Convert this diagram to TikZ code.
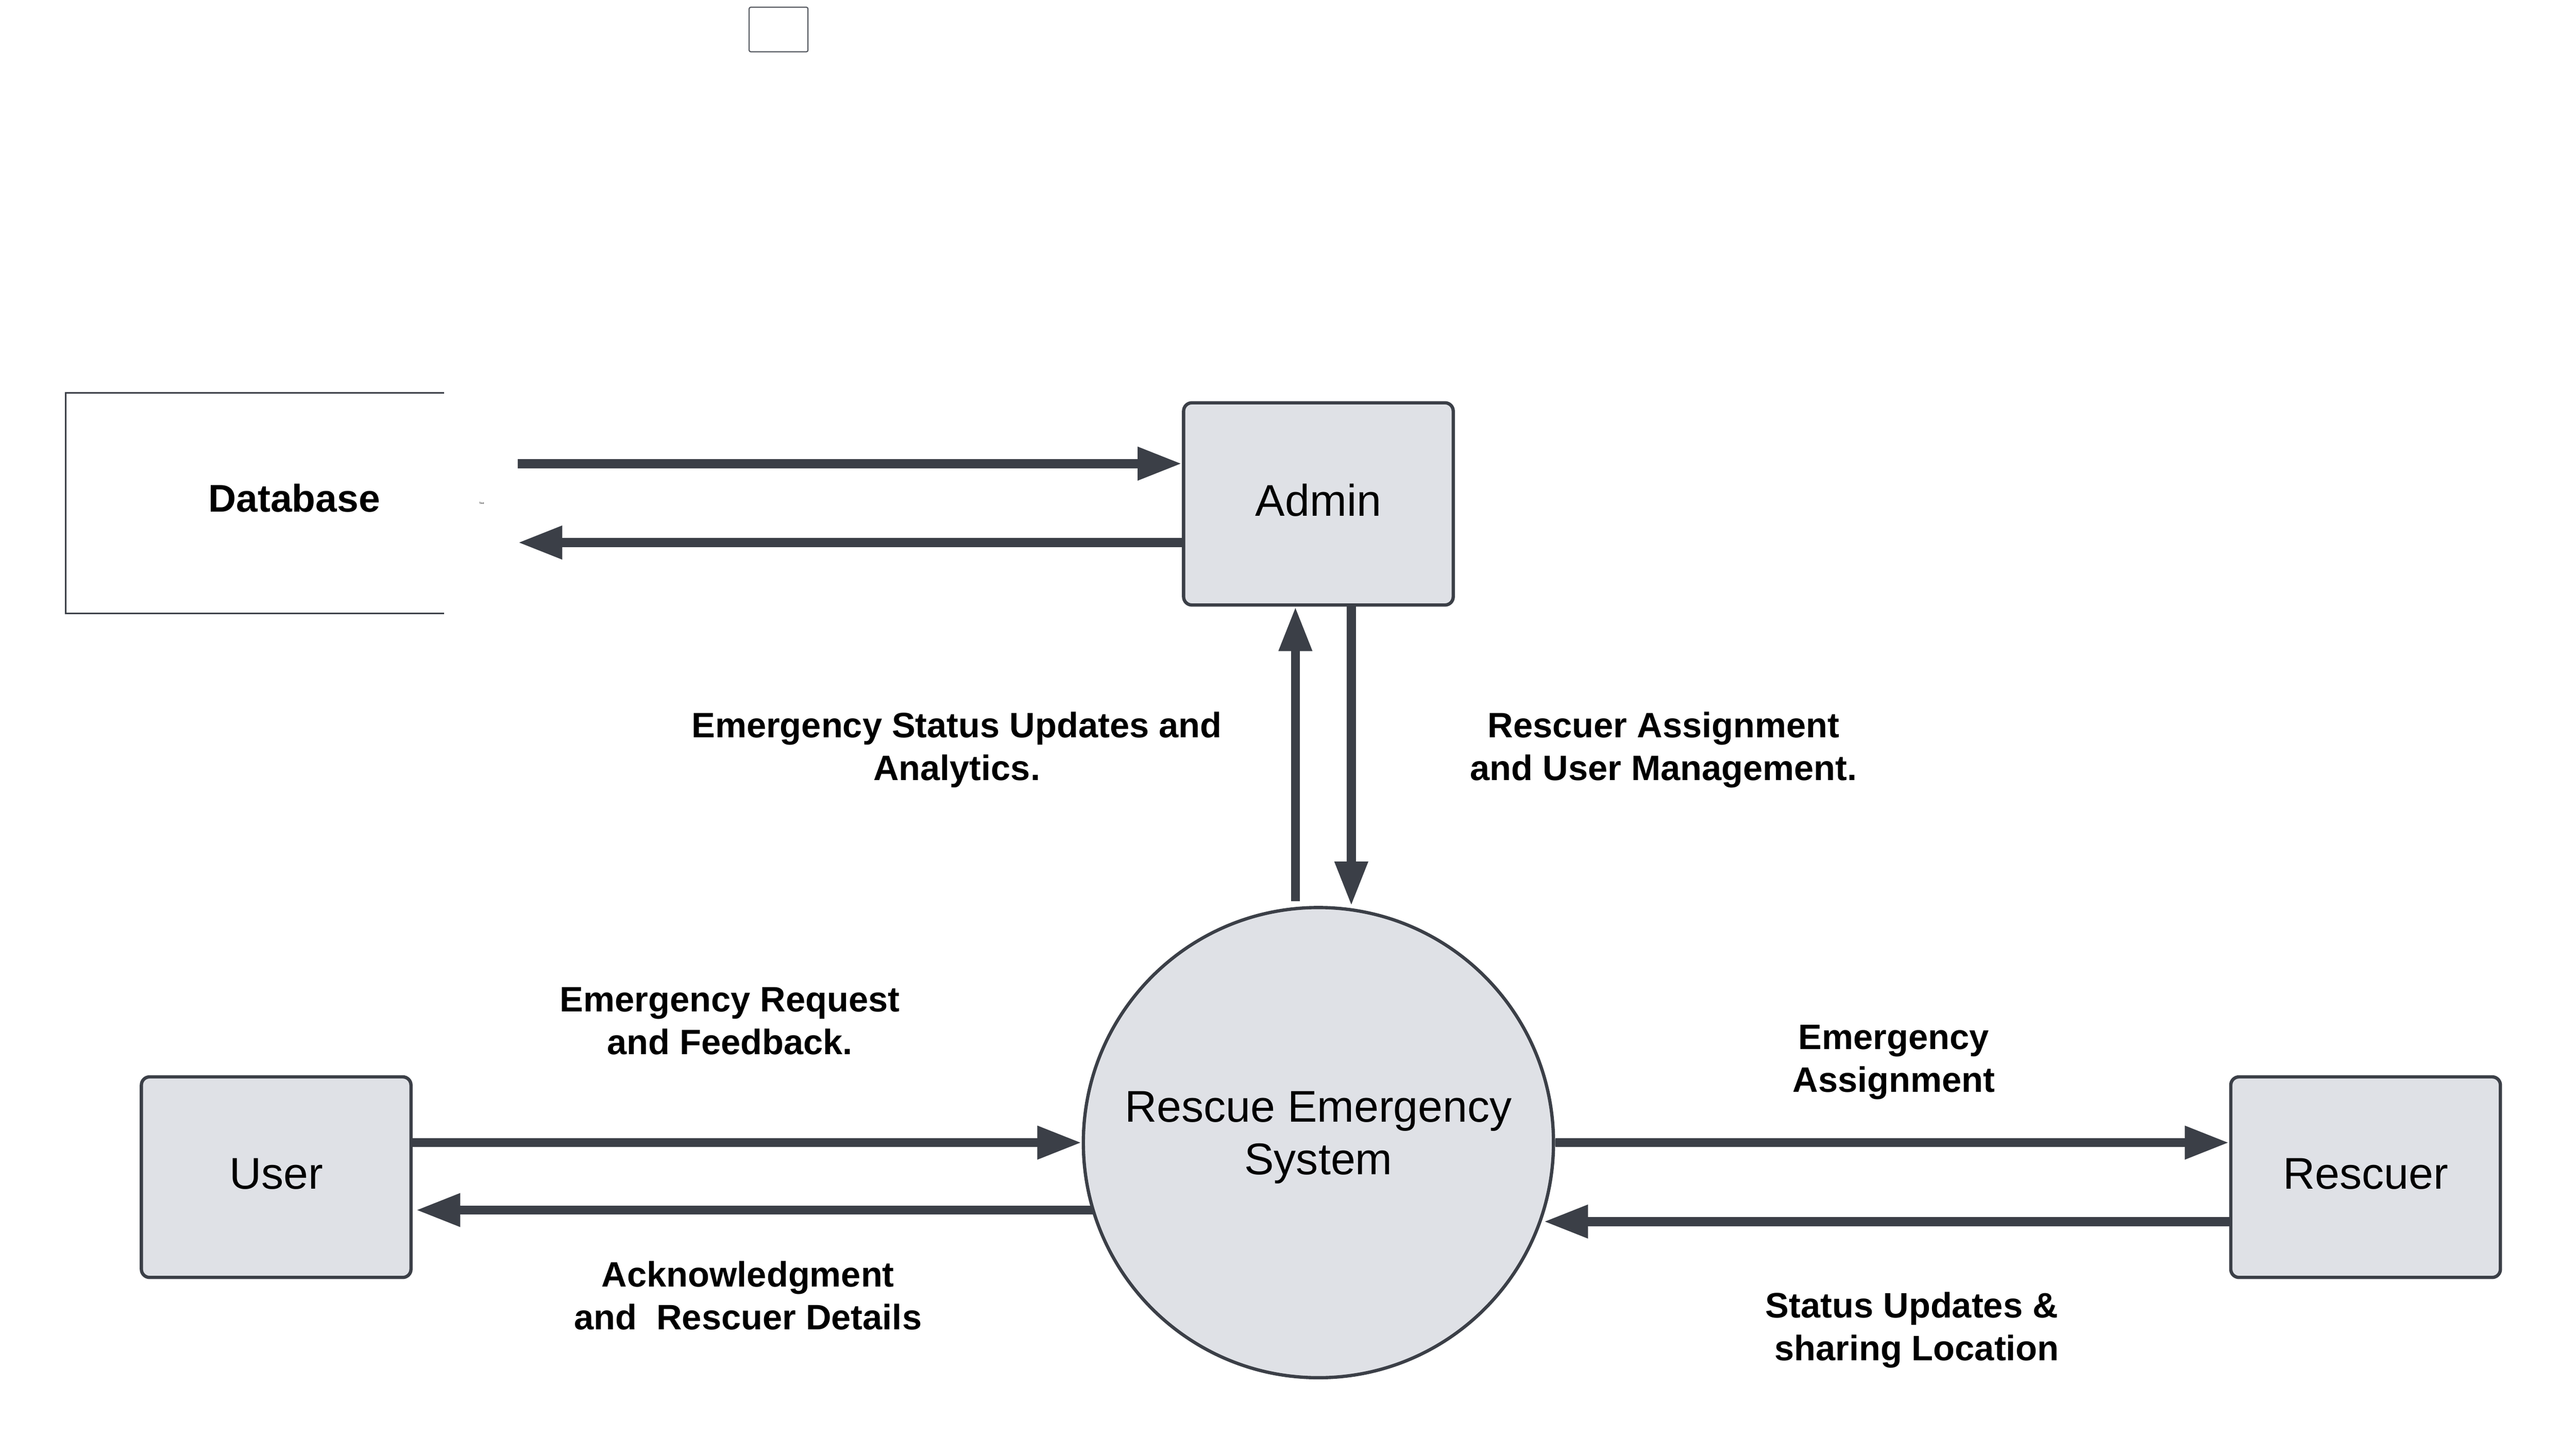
\documentclass[tikz,border=0pt]{standalone}
\usepackage{fontspec}
\setmainfont{Liberation Sans}
\usetikzlibrary{arrows.meta}
\definecolor{lnc}{HTML}{3B3F47}
\definecolor{fil}{HTML}{DFE1E6}
\tikzset{
  ent/.style={draw=lnc, fill=fil, line width=2pt, rounded corners=5pt, minimum width=164pt, minimum height=122pt, inner sep=0pt, font=\fontsize{27}{32}\selectfont, align=center, text height=19.5pt, text depth=5pt},
  proc/.style={draw=lnc, fill=fil, line width=2pt, circle, minimum size=286pt, inner sep=0pt, font=\fontsize{27}{32}\selectfont, align=center, text depth=11.7pt},
  flow/.style={draw=lnc, line width=5.5pt, -{Triangle[length=27pt,width=19pt]}},
  lbl/.style={font=\bfseries\fontsize{21.5}{26}\selectfont, align=center, inner sep=0pt},
}
\begin{document}
\begin{tikzpicture}[x=1pt,y=-1pt]
\useasboundingbox (0,0) rectangle (1567,883.7);
% small empty box at the top
\draw[draw=lnc!85, line width=0.7pt, rounded corners=1pt] (455.7,4.4) rectangle (491.5,31.5);
% database (open store)
\node[inner sep=0pt, font=\bfseries\fontsize{23.5}{28}\selectfont] (db) at (179,303) {Database};
\draw[draw=lnc, line width=1pt] (270,239) -- (40,239) -- (40,373) -- (270,373);
\node[inner sep=0pt, font=\fontsize{1.6}{2}\selectfont] (tx) at (293,306) {Text};
% nodes
\node[ent, minimum height=123pt] (adm) at (802,306.5) {Admin};
\node[ent] (usr) at (168,716) {User};
\node[ent] (rsc) at (1439,716) {Rescuer};
\node[proc] (sys) at (802,695) {Rescue Emergency\\System};
% coordinates
\coordinate (d1) at (315,282);
\coordinate (d2) at (315,330);
\coordinate (u1) at (788,548);
\coordinate (s1) at (822,551);
\coordinate (c1) at (665,736);
\coordinate (c2) at (939,743);
% flows database/admin
\draw[flow] (d1) -- (adm.west |- d1);
\draw[flow] (adm.west |- d2) -- (d2);
% admin/system
\draw[flow] (u1) -- (adm.south -| u1);
\draw[flow] (adm.south -| s1) -- (s1);
% user/system
\draw[flow] (usr.east |- sys.west) -- (sys.west);
\draw[flow] (c1) -- ([xshift=2pt]usr.east |- c1);
% system/rescuer
\draw[flow] (sys.east) -- (rsc.west |- sys.east);
\draw[flow] (rsc.west |- c2) -- (c2);
% labels
\node[lbl] (l1) at (582,456) {Emergency Status Updates and\\Analytics.};
\node[lbl] (l2) at (1012,456) {Rescuer Assignment\\and User Management.};
\node[lbl] (l3) at (444,621) {Emergency Request\\and Feedback.};
\node[lbl] (l4) at (1152,646) {Emergency\\Assignment};
\node[lbl] (l5) at (455,788) {Acknowledgment\\and\ \ Rescuer Details};
\node[lbl] (l6) at (1163,809) {Status Updates \&\\\ sharing Location};
\end{tikzpicture}
\end{document}
